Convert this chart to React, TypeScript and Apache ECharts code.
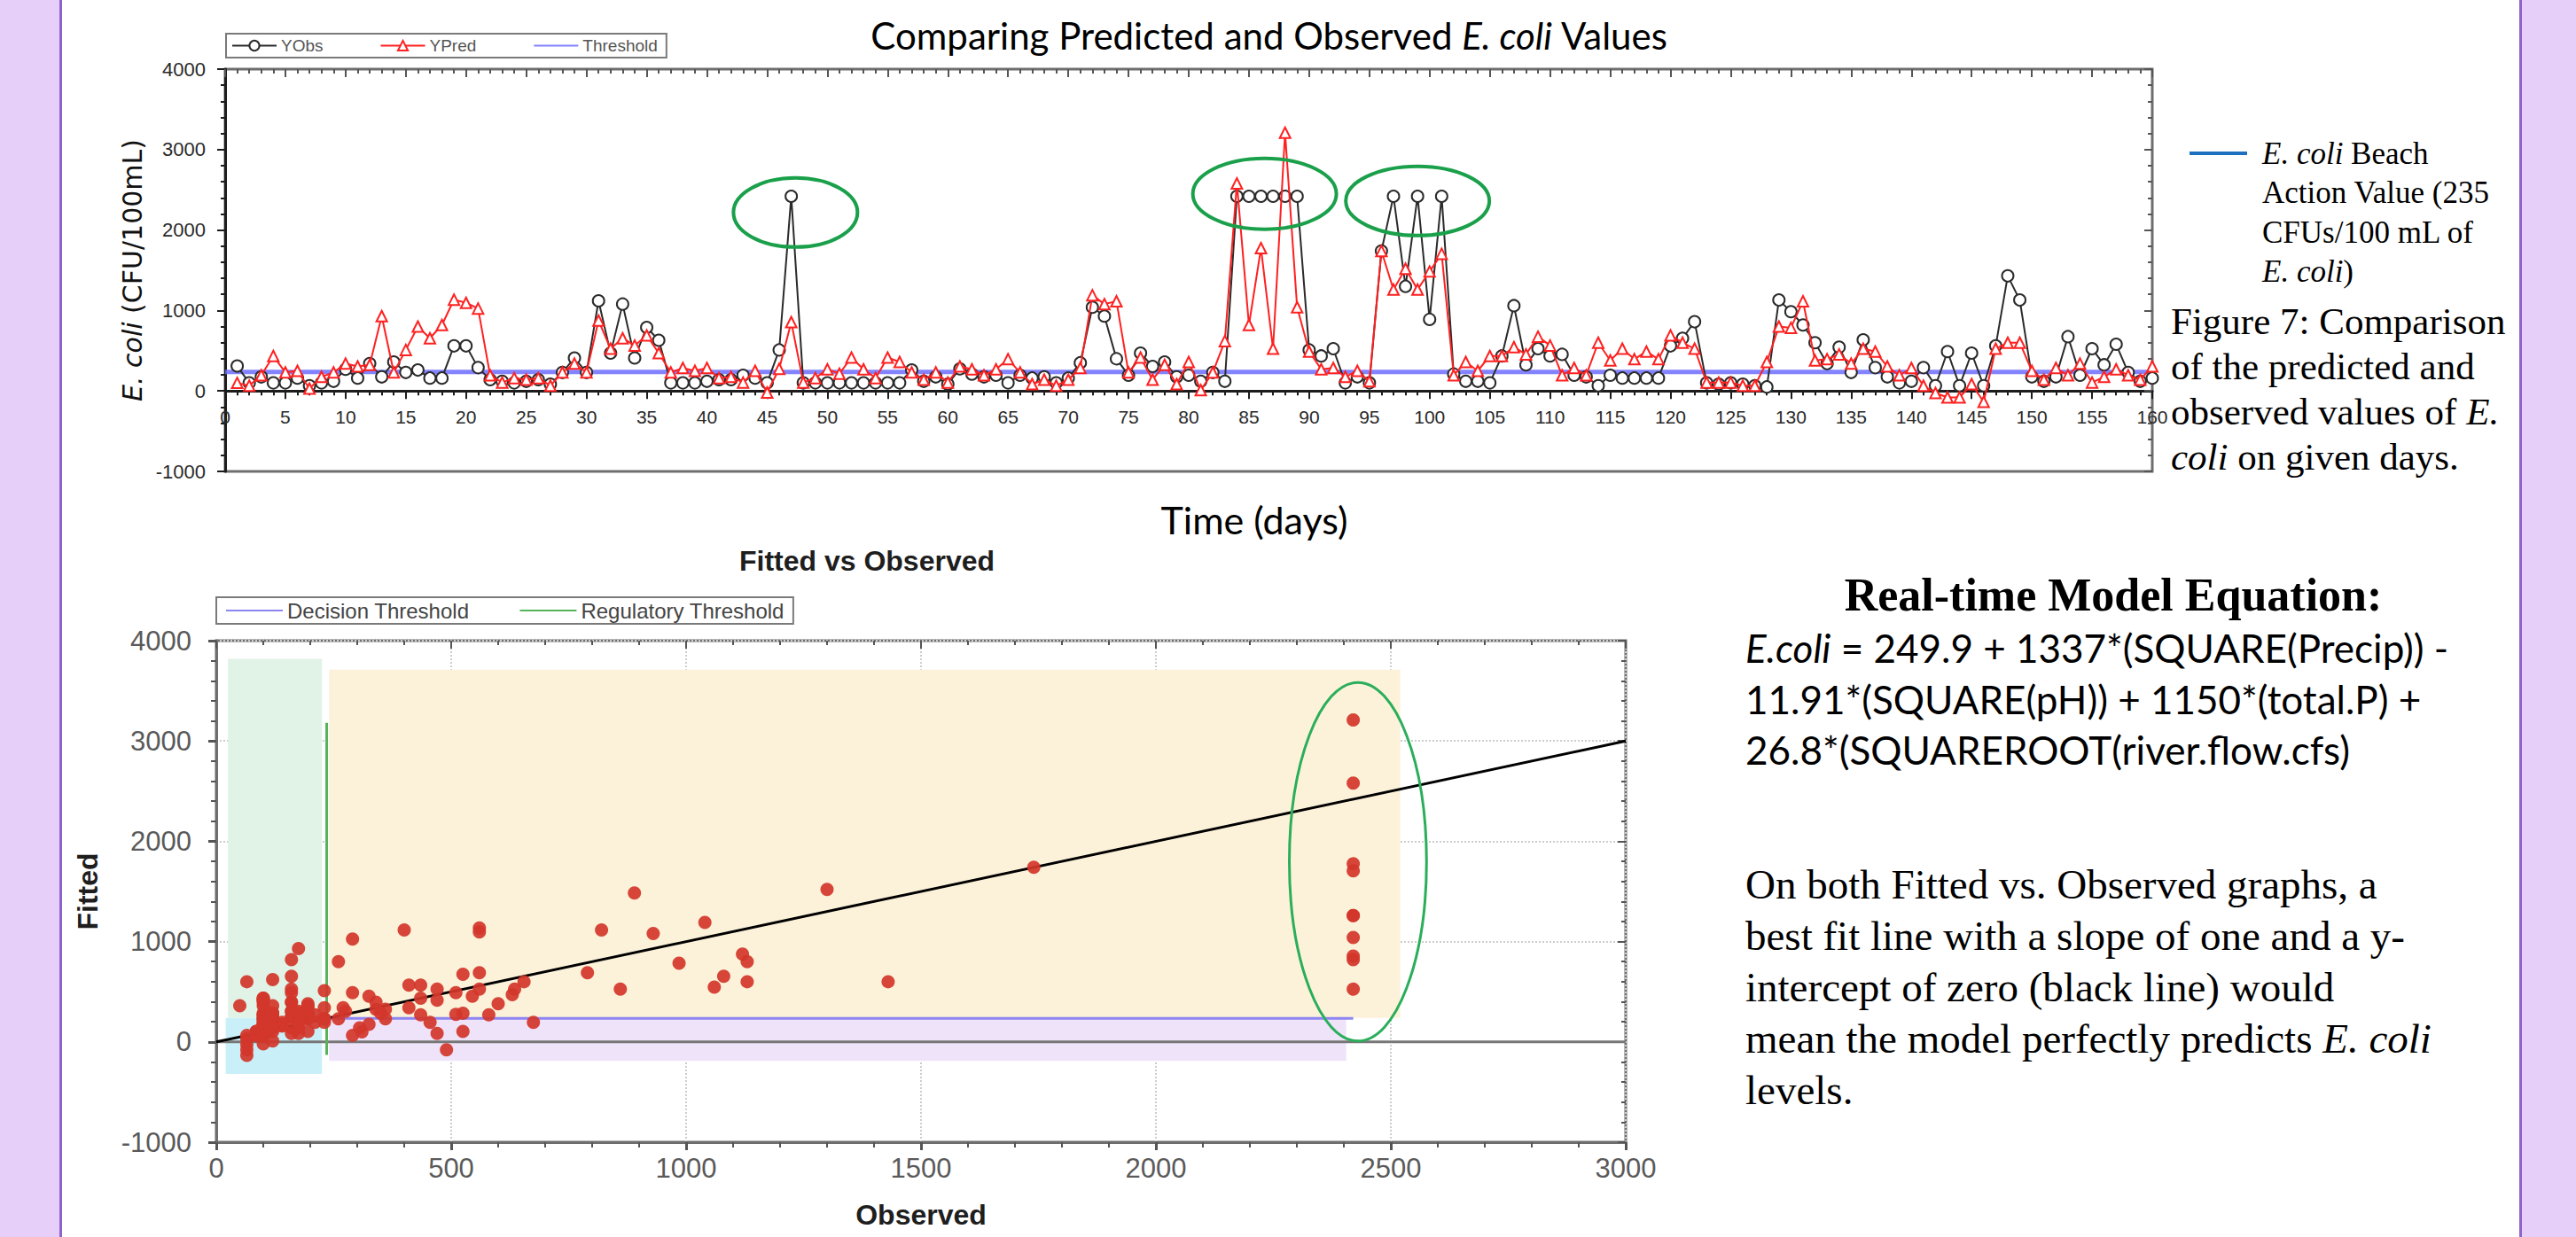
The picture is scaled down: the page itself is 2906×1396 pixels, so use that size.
import React, { useEffect, useRef } from "react";
import * as echarts from "echarts";

// ---------- DATA ----------
// Daily observed E. coli (CFU/100 mL), days 1..160
const yObs = [
  310, 100, 175, 100, 100, 160, 65, 100, 120, 270,
  160, 340, 175, 360, 230, 260, 160, 160, 560, 560,
  290, 140, 120, 100, 120, 140, 85, 230, 410, 230,
  1120, 470, 1080, 410, 790, 630, 100, 100, 100, 120,
  140, 140, 195, 160, 100, 510, 2420, 100, 100, 100,
  100, 100, 100, 100, 100, 100, 260, 120, 175, 85,
  275, 210, 175, 195, 100, 195, 160, 175, 100, 160,
  350, 1040, 930, 400, 195, 470, 305, 360, 175, 195,
  120, 230, 120, 2420, 2420, 2420, 2420, 2420, 2420, 510,
  435, 525, 100, 175, 100, 1740, 2420, 1300, 2420, 890,
  2420, 210, 120, 120, 100, 435, 1060, 325, 525, 435,
  455, 195, 175, 65, 195, 160, 160, 160, 160, 560,
  655, 860, 100, 85, 100, 85, 65, 50, 1130, 985,
  820, 600, 340, 545, 230, 635, 290, 175, 100, 120,
  290, 65, 490, 65, 470, 65, 560, 1430, 1130, 175,
  120, 175, 675, 195, 525, 325, 580, 230, 120, 160,
];
// Daily predicted (fitted) E. coli, days 1..160
const yPred = [
  100, 65, 195, 435, 230, 250, 30, 175, 230, 340,
  305, 325, 930, 230, 510, 800, 655, 820, 1135, 1095,
  1025, 195, 105, 160, 140, 160, 65, 230, 340, 230,
  875, 525, 655, 565, 690, 470, 230, 285, 250, 285,
  160, 175, 105, 250, -20, 275, 855, 105, 160, 270,
  215, 415, 270, 160, 415, 360, 230, 140, 230, 105,
  305, 270, 195, 270, 395, 230, 85, 140, 65, 140,
  285, 1190, 1080, 1115, 230, 415, 140, 325, 85, 360,
  10, 230, 620, 2580, 820, 1775, 525, 3210, 1040, 490,
  270, 285, 175, 250, 120, 1740, 1260, 1520, 1260, 1485,
  1705, 195, 360, 250, 435, 435, 545, 455, 675, 565,
  195, 285, 195, 600, 380, 525, 395, 490, 395, 690,
  600, 525, 105, 105, 105, 65, 65, 360, 800, 785,
  1115, 380, 395, 455, 340, 525, 490, 305, 195, 285,
  65, -25, -80, -80, 85, -135, 525, 600, 600, 250,
  140, 285, 195, 340, 105, 175, 270, 195, 140, 305,
];
const actionThreshold = 235; // Beach Action Value
const dayTicks = [0, 160, 5];
const valueTicks = [-1000, 4000, 1000];
const observedTicks = [0, 3000, 500];
const perfectFitX = [0, 3000];
const decisionLineX = [240, 2420];
const decisionLineY = 235;
const regulatoryLineX = 235;
const regulatoryLineY = [-130, 3180];

// shaded zones of the Fitted vs Observed plot (data space)
const zoneX0 = [25, 20, 240, 240];
const zoneX1 = [225, 225, 2520, 2405];
const zoneY0 = [240, -320, 240, -190];
const zoneY1 = [3820, 240, 3710, 235];
const zoneColors = ["#e1f3e6", "#c9f0f8", "#fcf2da", "#efe3fa"];

// highlight ellipses (data space)
const topEllipses = [
  { cx: 47.35, cy: 2218, rx: 5.15, ry: 430 },
  { cx: 86.3, cy: 2450, rx: 5.96, ry: 441 },
  { cx: 99.0, cy: 2362, rx: 5.96, ry: 430 },
];
const bottomEllipses = [{ cx: 2430, cy: 1796, rx: 146, ry: 1787 }];

// ---------- STYLE ----------
const SANS = "'Liberation Sans', Arial, sans-serif";
const SERIF = "'Liberation Serif', 'Times New Roman', serif";
const CAL = "Lato, 'Open Sans', sans-serif";
const DJV = "'DejaVu Sans', Verdana, sans-serif";

const TOP_GRID = { left: 254, top: 78, width: 2174, height: 454 };

function txt(x: number, y: number, text: string, o: any) {
  const fill = o.fill || "#000";
  const fw = o.fw || "normal";
  return {
    type: "text",
    x,
    y,
    rotation: o.rotation || 0,
    z: 50,
    style: {
      text,
      fontFamily: o.ff,
      fontSize: o.fs,
      fontWeight: fw,
      fill,
      align: o.align || "left",
      verticalAlign: "middle",
      rich: {
        i: { fontStyle: "italic", fontFamily: o.ff, fontSize: o.fs, fontWeight: fw, fill },
      },
    },
  };
}

function baseGraphics() {
  const g: any[] = [];
  // lavender page margins
  g.push({ type: "rect", shape: { x: 0, y: 0, width: 68, height: 1396 }, style: { fill: "#e6cff9" }, z: 1 });
  g.push({ type: "rect", shape: { x: 67, y: 0, width: 3, height: 1396 }, style: { fill: "#8f63c8" }, z: 1 });
  g.push({ type: "rect", shape: { x: 2843, y: 0, width: 63, height: 1396 }, style: { fill: "#e6cff9" }, z: 1 });
  g.push({ type: "rect", shape: { x: 2842, y: 0, width: 3, height: 1396 }, style: { fill: "#8f63c8" }, z: 1 });

  // top chart title + x name
  g.push(txt(1432, 40, "Comparing Predicted and Observed {i|E. coli} Values", { ff: CAL, fs: 42, align: "center" }));
  g.push(txt(1415, 586, "Time (days)", { ff: CAL, fs: 43, align: "center" }));

  // right legend note
  g.push({ type: "line", shape: { x1: 2470, y1: 173, x2: 2535, y2: 173 }, style: { stroke: "#1f6fbf", lineWidth: 4 }, z: 50 });
  const noteLines = ["{i|E. coli} Beach", "Action Value (235", "CFUs/100 mL of", "{i|E. coli})"];
  noteLines.forEach((t, k) => g.push(txt(2552, 173 + k * 44.5, t, { ff: SERIF, fs: 35 })));

  const figLines = ["Figure 7: Comparison", "of the predicted and", "observed values of {i|E.}", "{i|coli} on given days."];
  figLines.forEach((t, k) => g.push(txt(2449, 362 + k * 51, t, { ff: SERIF, fs: 43 })));

  // equation block
  g.push(txt(2384, 671, "Real-time Model Equation:", { ff: SERIF, fs: 52, fw: "bold", align: "center" }));
  const eq = [
    "{i|E.coli} = 249.9 + 1337*(SQUARE(Precip)) -",
    "11.91*(SQUARE(pH)) + 1150*(total.P) +",
    "26.8*(SQUAREROOT(river.flow.cfs)",
  ];
  eq.forEach((t, k) => g.push(txt(1969, 731 + k * 57.5, t, { ff: CAL, fs: 44 })));

  const para = [
    "On both Fitted vs. Observed graphs, a",
    "best fit line with a slope of one and a y-",
    "intercept of zero (black line) would",
    "mean the model perfectly predicts {i|E. coli}",
    "levels.",
  ];
  para.forEach((t, k) => g.push(txt(1969, 998 + k * 58, t, { ff: SERIF, fs: 47 })));

  // bottom chart title
  g.push(txt(978, 633, "Fitted vs Observed", { ff: SANS, fs: 32, fw: "bold", align: "center", fill: "#1e1e1e" }));
  return g;
}

const plain = (v: number) => String(v);

function buildOption(graphic: any[]) {
  const [d0, d1, dStep] = dayTicks;
  const [v0, v1, vStep] = valueTicks;
  const [o0, o1, oStep] = observedTicks;
  const dark = "#1c1c1c";
  const frame = "#6e6e6e";
  // the day axis crosses the value axis at 0: shift it up from the grid bottom
  const zeroOffset = -TOP_GRID.height * ((0 - v0) / (v1 - v0));

  const secondaryX = (gridIndex: number, min: number, max: number, interval: number) => ({
    gridIndex, type: "value", position: "top", min, max, interval,
    axisLine: { show: false, onZero: false },
    axisTick: { show: true, inside: true, length: 9, lineStyle: { color: "#555", width: 2 } },
    minorTick: { show: true, splitNumber: 5, length: 5, lineStyle: { color: "#555", width: 2 } },
    axisLabel: { show: false }, splitLine: { show: false },
  });
  const secondaryY = (gridIndex: number, min: number, max: number, interval: number) => ({
    gridIndex, type: "value", position: "right", min, max, interval,
    axisLine: { show: false, onZero: false },
    axisTick: { show: true, inside: true, length: 9, lineStyle: { color: "#555", width: 2 } },
    minorTick: { show: true, splitNumber: 5, length: 5, lineStyle: { color: "#555", width: 2 } },
    axisLabel: { show: false }, splitLine: { show: false },
  });

  return {
    animation: false,
    backgroundColor: "#ffffff",
    textStyle: { fontFamily: SANS },
    grid: [
      { ...TOP_GRID, show: true, borderColor: frame, borderWidth: 3, backgroundColor: "#fff" },
      { left: 244, top: 723, width: 1590, height: 566, show: true, borderColor: frame, borderWidth: 3, backgroundColor: "#fff" },
    ],
    legend: [
      {
        data: ["YObs", "YPred", { name: "Threshold", itemStyle: { opacity: 0 } }],
        left: 255, top: 38, itemWidth: 50, itemHeight: 14, itemGap: 64,
        padding: [4, 10, 4, 6], borderColor: "#7a7a7a", borderWidth: 2, backgroundColor: "#fff",
        textStyle: { fontFamily: SANS, fontSize: 19, color: "#555" }, selectedMode: false,
      },
      {
        data: [
          { name: "Decision Threshold", itemStyle: { opacity: 0 } },
          { name: "Regulatory Threshold", itemStyle: { opacity: 0 } },
        ],
        left: 244, top: 674, itemWidth: 64, itemHeight: 14, itemGap: 56,
        padding: [3, 10, 3, 10], borderColor: "#7a7a7a", borderWidth: 2, backgroundColor: "#fff",
        textStyle: { fontFamily: SANS, fontSize: 24, color: "#444" }, selectedMode: false,
      },
    ],
    xAxis: [
      {
        gridIndex: 0, type: "value", min: d0, max: d1, interval: dStep,
        position: "bottom", offset: zeroOffset,
        axisLine: { show: true, onZero: false, lineStyle: { color: dark, width: 3 } },
        axisTick: { show: true, length: 9, lineStyle: { color: dark, width: 2 } },
        minorTick: { show: true, splitNumber: 5, length: 5, lineStyle: { color: dark, width: 2 } },
        axisLabel: { fontFamily: SANS, fontSize: 21, color: "#2a2a2a", margin: 19, formatter: plain },
        splitLine: { show: false },
      },
      secondaryX(0, d0, d1, dStep),
      {
        gridIndex: 1, type: "value", min: o0, max: o1, interval: oStep,
        axisLine: { show: true, onZero: false, lineStyle: { color: frame, width: 3 } },
        axisTick: { show: true, length: 9, lineStyle: { color: "#555", width: 3 } },
        minorTick: { show: true, splitNumber: 5, length: 6, lineStyle: { color: "#555", width: 2 } },
        axisLabel: { fontFamily: SANS, fontSize: 31, color: "#5a5a5a", margin: 14, formatter: plain },
        splitLine: { show: true, lineStyle: { color: "#cdcdcd", type: "dotted", width: 2 } },
        name: "Observed", nameLocation: "middle", nameGap: 66,
        nameTextStyle: { fontFamily: SANS, fontWeight: "bold", fontSize: 32, color: "#1e1e1e" },
      },
      secondaryX(1, o0, o1, oStep),
    ],
    yAxis: [
      {
        gridIndex: 0, type: "value", min: v0, max: v1, interval: vStep,
        axisLine: { show: true, onZero: false, lineStyle: { color: dark, width: 3 } },
        axisTick: { show: true, length: 9, lineStyle: { color: dark, width: 2 } },
        minorTick: { show: true, splitNumber: 5, length: 5, lineStyle: { color: dark, width: 2 } },
        axisLabel: { fontFamily: SANS, fontSize: 22, color: "#2a2a2a", margin: 22, formatter: plain },
        splitLine: { show: false },
        name: "{i|E. coli} (CFU/100mL)", nameLocation: "middle", nameRotate: 90, nameGap: 82,
        nameTextStyle: {
          fontFamily: DJV, fontSize: 30, color: "#111",
          rich: { i: { fontStyle: "italic", fontFamily: DJV, fontSize: 30, color: "#111" } },
        },
      },
      secondaryY(0, v0, v1, vStep),
      {
        gridIndex: 1, type: "value", min: v0, max: v1, interval: vStep,
        axisLine: { show: true, onZero: false, lineStyle: { color: frame, width: 3 } },
        axisTick: { show: true, length: 9, lineStyle: { color: "#555", width: 3 } },
        minorTick: { show: true, splitNumber: 5, length: 6, lineStyle: { color: "#555", width: 2 } },
        axisLabel: { fontFamily: SANS, fontSize: 31, color: "#5a5a5a", margin: 28, formatter: plain },
        splitLine: { show: true, lineStyle: { color: "#cdcdcd", type: "dotted", width: 2 } },
        name: "Fitted", nameLocation: "middle", nameRotate: 90, nameGap: 129,
        nameTextStyle: { fontFamily: SANS, fontWeight: "bold", fontSize: 32, color: "#1e1e1e" },
      },
      secondaryY(1, v0, v1, vStep),
    ],
    series: [
      {
        name: "YObs", type: "line", xAxisIndex: 0, yAxisIndex: 0,
        data: yObs.map((v, i) => [i + 1, v]),
        symbol: "emptyCircle", symbolSize: 13,
        lineStyle: { color: "#2b2b2b", width: 2 },
        itemStyle: { color: "#2b2b2b", borderWidth: 2 }, z: 3,
      },
      {
        name: "YPred", type: "line", xAxisIndex: 0, yAxisIndex: 0,
        data: yPred.map((v, i) => [i + 1, v]),
        symbol: "emptyTriangle", symbolSize: 12,
        lineStyle: { color: "#ff2020", width: 2 },
        itemStyle: { color: "#ff2020", borderWidth: 2 }, z: 4,
      },
      {
        name: "Threshold", type: "line", xAxisIndex: 0, yAxisIndex: 0,
        data: [[d0, actionThreshold], [d1, actionThreshold]],
        symbol: "none", lineStyle: { color: "#6d6dff", width: 5, opacity: 0.85 },
        itemStyle: { color: "#6d6dff" }, z: 2,
      },
      {
        name: "zones", type: "line", xAxisIndex: 2, yAxisIndex: 2, data: [], symbol: "none", z: 1,
        markArea: {
          silent: true,
          data: zoneX0.map((x0, k) => [
            { coord: [x0, zoneY1[k]], itemStyle: { color: zoneColors[k], opacity: 1 } },
            { coord: [zoneX1[k], zoneY0[k]] },
          ]),
        },
      },
      {
        name: "Zero", type: "line", xAxisIndex: 2, yAxisIndex: 2,
        data: [[o0, 0], [o1, 0]], symbol: "none",
        lineStyle: { color: "#777", width: 3 }, z: 2,
      },
      {
        name: "Decision Threshold", type: "line", xAxisIndex: 2, yAxisIndex: 2,
        data: decisionLineX.map((x) => [x, decisionLineY]), symbol: "none",
        lineStyle: { color: "#8d85f2", width: 3 }, itemStyle: { color: "#7d7df5" }, z: 3,
      },
      {
        name: "Regulatory Threshold", type: "line", xAxisIndex: 2, yAxisIndex: 2,
        data: regulatoryLineY.map((y) => [regulatoryLineX, y]), symbol: "none",
        lineStyle: { color: "#55b35a", width: 3 }, itemStyle: { color: "#55b35a" }, z: 3,
      },
      {
        name: "Perfect fit", type: "line", xAxisIndex: 2, yAxisIndex: 2,
        data: perfectFitX.map((v) => [v, v]), symbol: "none",
        lineStyle: { color: "#000", width: 3 }, z: 4,
      },
      {
        name: "Fitted vs Observed", type: "scatter", xAxisIndex: 2, yAxisIndex: 2,
        data: yObs.map((o, i) => [o, yPred[i]]),
        symbol: "circle", symbolSize: 15,
        itemStyle: { color: "#d3362a", opacity: 0.92 }, z: 6,
      },
    ],
    graphic,
  };
}

export default function App() {
  const ref = useRef<HTMLDivElement>(null);
  useEffect(() => {
    const el = ref.current;
    if (!el) return;
    const chart = echarts.init(el, undefined, { renderer: "svg", width: 2906, height: 1396 });
    const g = baseGraphics();
    chart.setOption(buildOption(g));

    const toEllipse = (seriesIndex: number, e: any, stroke: string, lw: number) => {
      const c = chart.convertToPixel({ seriesIndex }, [e.cx, e.cy]) as number[];
      const p = chart.convertToPixel({ seriesIndex }, [e.cx + e.rx, e.cy + e.ry]) as number[];
      return {
        type: "ellipse",
        z: 60,
        shape: { cx: c[0], cy: c[1], rx: Math.abs(p[0] - c[0]), ry: Math.abs(p[1] - c[1]) },
        style: { fill: "none", stroke, lineWidth: lw },
      };
    };
    const ell = [
      ...topEllipses.map((e) => toEllipse(0, e, "#1aa04a", 4)),
      ...bottomEllipses.map((e) => toEllipse(8, e, "#2aae5a", 3)),
    ];
    chart.setOption(buildOption([...g, ...ell]), true);
    return () => chart.dispose();
  }, []);
  return (
    <div
      ref={ref}
      style={{ position: "fixed", left: 0, top: 0, width: 2906, height: 1396, background: "#fff" }}
    />
  );
}
